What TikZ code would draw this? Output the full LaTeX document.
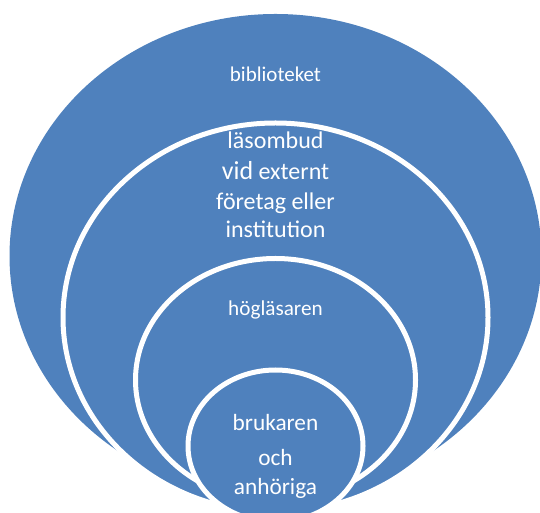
\documentclass[tikz,border=0pt]{standalone}
\usepackage{fontspec}
\setmainfont{Carlito}
\usetikzlibrary{shapes.geometric}
\definecolor{venn}{HTML}{4F81BD}
\tikzset{
  ring/.style={ellipse, fill=venn, draw=white, line width=5pt, inner sep=0pt},
  lbl/.style={text=white, anchor=base, inner sep=0pt}
}
\begin{document}
\begin{tikzpicture}[x=1pt,y=1pt]
\useasboundingbox (0,0) rectangle (540,513);
\clip (0,0) rectangle (540,513);
\node[ellipse, fill=venn, inner sep=0pt, minimum width=532pt, minimum height=484pt] (e1) at (275.5,257) {};
\node[ring, minimum width=425pt, minimum height=389pt] (e2) at (275.5,195.5) {};
\node[ring, minimum width=280pt, minimum height=243pt] (e3) at (275.5,133) {};
\node[ring, minimum width=175pt, minimum height=152pt] (e4) at (275.5,67) {};
\node[lbl, font=\fontsize{21}{24}\selectfont] (t1) at (275.5,431) {biblioteket};
\node[lbl, font=\fontsize{24}{28}\selectfont] (t2a) at (275.5,364) {läsombud};
\node[lbl, font=\fontsize{24}{28}\selectfont] (t2b) at (275.5,333) {{\fontsize{26}{28}\selectfont vid} externt};
\node[lbl, font=\fontsize{24}{28}\selectfont] (t2c) at (275.5,303) {företag eller};
\node[lbl, font=\fontsize{24}{28}\selectfont] (t2d) at (275.5,275) {institution};
\node[lbl, font=\fontsize{21.2}{24}\selectfont] (t3) at (275.5,197.5) {högläsaren};
\node[lbl, font=\fontsize{23.3}{26}\selectfont] (t4a) at (275.5,82) {brukaren};
\node[lbl, font=\fontsize{23.3}{26}\selectfont] (t4b) at (275.5,47.5) {och};
\node[lbl, font=\fontsize{23.3}{26}\selectfont] (t4c) at (275.5,18) {anhöriga};
\end{tikzpicture}
\end{document}
